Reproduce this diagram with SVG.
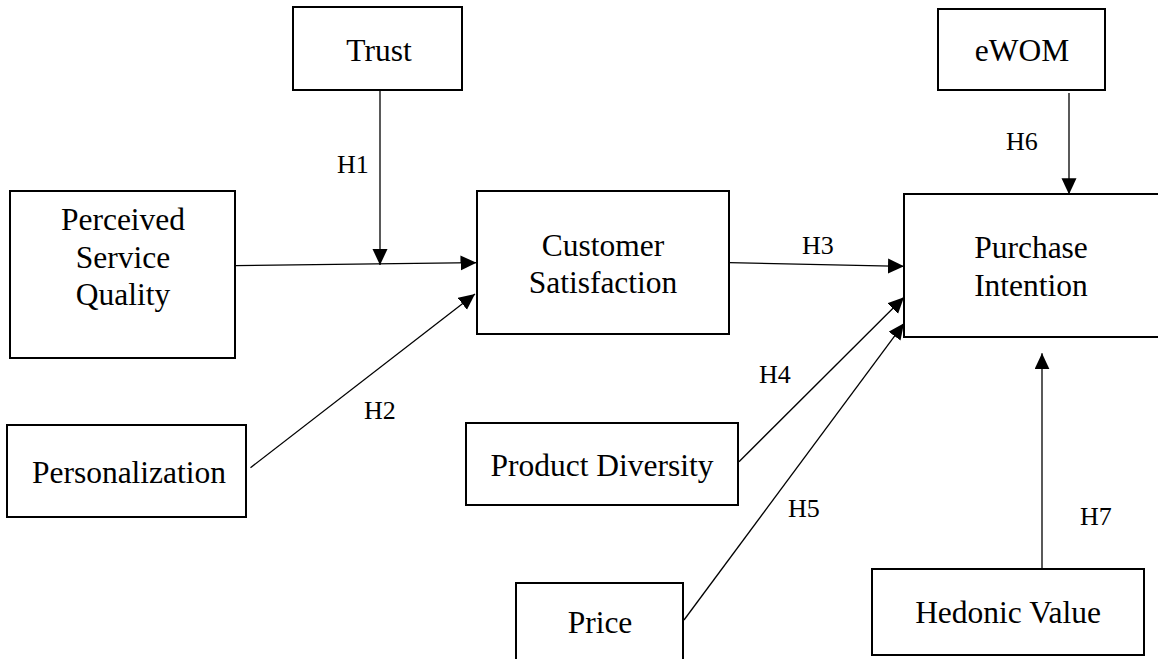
<svg xmlns="http://www.w3.org/2000/svg" width="1158" height="659" viewBox="0 0 1158 659">
  <style>
    .box { fill: #ffffff; stroke: #000000; stroke-width: 2; }
    .name { font-family: "Liberation Serif", "Times New Roman", serif; font-size: 31.5px; fill: #000000; text-anchor: middle; }
    .hyp { font-family: "Liberation Serif", "Times New Roman", serif; font-size: 26px; fill: #000000; }
    .link { fill: none; stroke: #000000; stroke-width: 1.3; marker-end: url(#arrow); }
  </style>
  <defs>
    <marker id="arrow" markerUnits="userSpaceOnUse" markerWidth="16" markerHeight="16" refX="16" refY="7.5" orient="auto">
      <path d="M0,0 L16,7.5 L0,15 Z" fill="#000000"/>
    </marker>
  </defs>
  <rect width="1158" height="659" fill="#ffffff"/>

  <g id="trust">
    <rect class="box" x="293" y="7" width="169" height="83"/>
    <text class="name" x="379" y="61">Trust</text>
  </g>
  <g id="ewom">
    <rect class="box" x="938" y="9" width="167" height="81"/>
    <text class="name" x="1022" y="61">eWOM</text>
  </g>
  <g id="perceived-service-quality">
    <rect class="box" x="10" y="191" width="225" height="167"/>
    <text class="name" x="123" y="230">Perceived</text>
    <text class="name" x="123" y="268">Service</text>
    <text class="name" x="123" y="305">Quality</text>
  </g>
  <g id="customer-satisfaction">
    <rect class="box" x="477" y="191" width="252" height="143"/>
    <text class="name" x="603" y="256">Customer</text>
    <text class="name" x="603" y="293">Satisfaction</text>
  </g>
  <g id="purchase-intention">
    <rect class="box" x="904" y="194" width="270" height="143"/>
    <text class="name" x="1031" y="258">Purchase</text>
    <text class="name" x="1031" y="296">Intention</text>
  </g>
  <g id="personalization">
    <rect class="box" x="7" y="425" width="239" height="92"/>
    <text class="name" x="129" y="483">Personalization</text>
  </g>
  <g id="product-diversity">
    <rect class="box" x="466" y="423" width="272" height="82"/>
    <text class="name" x="602" y="476">Product Diversity</text>
  </g>
  <g id="price">
    <rect class="box" x="516" y="583" width="167" height="90"/>
    <text class="name" x="600" y="633">Price</text>
  </g>
  <g id="hedonic-value">
    <rect class="box" x="872" y="569" width="272" height="86"/>
    <text class="name" x="1008" y="623">Hedonic Value</text>
  </g>

  <g id="connectors">
    <line class="link" x1="380" y1="90" x2="380" y2="265"/>
    <line class="link" x1="235" y1="265.7" x2="476.5" y2="262.7"/>
    <line class="link" x1="250.5" y1="467.7" x2="475" y2="294"/>
    <line class="link" x1="729" y1="262.7" x2="904" y2="266.3"/>
    <line class="link" x1="1069" y1="93" x2="1069" y2="194.3"/>
    <line class="link" x1="739" y1="461.7" x2="904" y2="297.3"/>
    <line class="link" x1="684" y1="620" x2="904" y2="323.3"/>
    <line class="link" x1="1042" y1="568.3" x2="1042" y2="353.3"/>
  </g>

  <g id="hypothesis-labels">
    <text class="hyp" x="337" y="173">H1</text>
    <text class="hyp" x="364" y="419">H2</text>
    <text class="hyp" x="802" y="254">H3</text>
    <text class="hyp" x="759" y="383">H4</text>
    <text class="hyp" x="788" y="517">H5</text>
    <text class="hyp" x="1006" y="150">H6</text>
    <text class="hyp" x="1080" y="525">H7</text>
  </g>
</svg>
